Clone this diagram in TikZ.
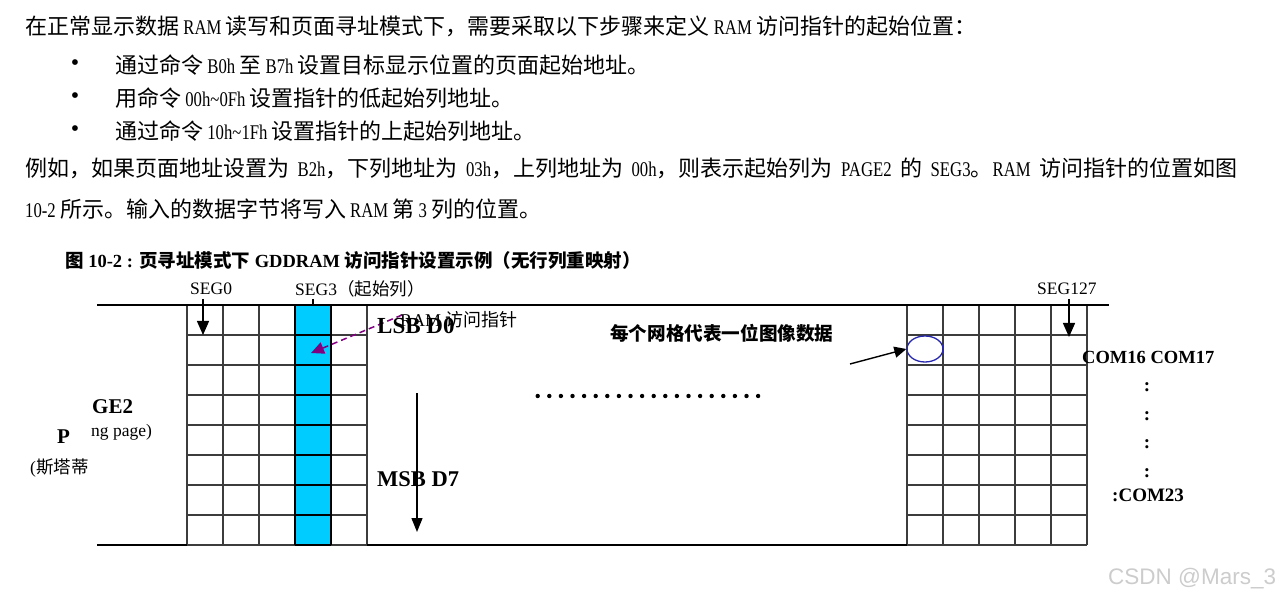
\documentclass[tikz,border=0pt]{standalone}
\usepackage{fontspec}
\setmainfont{Liberation Serif}
\newfontfamily\bodyserif{Liberation Serif}[FakeStretch=0.8, Scale=0.95]
\newfontfamily\cjk{Noto Sans CJK SC}
\newfontfamily\wmfont{Liberation Sans}
\usetikzlibrary{arrows.meta,shapes.geometric}
\newcommand\C[1]{{\cjk #1}}
\definecolor{colblue}{RGB}{0,204,255}
\definecolor{ptrpurple}{RGB}{128,0,128}
\definecolor{ellblue}{RGB}{40,40,175}
\definecolor{gridgray}{RGB}{60,60,60}
\begin{document}
\begin{tikzpicture}[x=1pt,y=-1pt,
  txt/.style={inner sep=0pt, anchor=west},
  body/.style={txt, font=\bodyserif\fontsize{22}{24}\selectfont},
  bul/.style={inner sep=0pt, anchor=center, font=\fontsize{24}{24}\selectfont},
  ttl/.style={txt, font=\bfseries\fontsize{18.5}{20}\selectfont},
  seglbl/.style={txt, font=\fontsize{17.5}{20}\selectfont},
  boldlbl/.style={txt, font=\bfseries\fontsize{21}{24}\selectfont},
  comlbl/.style={txt, font=\bfseries\fontsize{19}{22}\selectfont},
  gridline/.style={draw=gridgray, line width=1.3pt},
  frameline/.style={draw=black, line width=2.6pt},
  bigarrow/.style={draw=black, line width=1.4pt, -{Triangle[length=14pt,width=12pt]}},
]
\useasboundingbox (0,0) rectangle (1282,601);

% ---------------- body text ----------------
\node[body] (l1) at (25,26) {\C{在正常显示数据} RAM \C{读写和页面寻址模式下，需要采取以下步骤来定义} RAM \C{访问指针的起始位置：}};
\node[bul] (b1) at (75,65) {•};
\node[body] (l2) at (115,65) {\C{通过命令} B0h \C{至} B7h \C{设置目标显示位置的页面起始地址。}};
\node[bul] (b2) at (75,98) {•};
\node[body] (l3) at (115,98) {\C{用命令} 00h\textasciitilde 0Fh \C{设置指针的低起始列地址。}};
\node[bul] (b3) at (75,131) {•};
\node[body] (l4) at (115,131) {\C{通过命令} 10h\textasciitilde 1Fh \C{设置指针的上起始列地址。}};
\node[body] (l5) at (25,168) {\makebox[1212pt][s]{\C{例如，如果页面地址设置为} B2h\C{，下列地址为} 03h\C{，上列地址为} 00h\C{，则表示起始列为} PAGE2 \C{的} SEG3\C{。}RAM \C{访问指针的位置如图}}};
\node[body] (l6) at (25,209) {10-2 \C{所示。输入的数据字节将写入} RAM \C{第} 3 \C{列的位置。}};

% ---------------- figure title ----------------
\node[ttl] (title) at (65,260) {\C{图} 10-2 : \C{页寻址模式下} GDDRAM \C{访问指针设置示例（无行列重映射）}};

% ---------------- grids ----------------
\fill[colblue] (295,305) rectangle (331,545);
\foreach \x in {187,223,259,367} \draw[gridline] (\x,305) -- (\x,545);
\foreach \y in {335,365,...,545} \draw[gridline] (187,\y) -- (367,\y);
\foreach \y in {335,365,...,545} \draw[draw=black, line width=1.8pt] (295,\y) -- (331,\y);
\draw[draw=black, line width=2.2pt] (295,305) -- (295,545) (331,305) -- (331,545);

\foreach \x in {907,943,979,1015,1051,1087} \draw[gridline] (\x,305) -- (\x,545);
\foreach \y in {335,365,...,545} \draw[gridline] (907,\y) -- (1087,\y);

% frame lines
\draw[frameline] (97,305) -- (1109,305);
\draw[frameline] (97,545) -- (187,545);
\draw[frameline] (367,545) -- (907,545);

% ---------------- column labels ----------------
\node[seglbl] (seg0) at (190,289) {SEG0};
\node[seglbl] (seg3) at (295,289) {SEG3\C{（起始列）}};
\node[seglbl] (seg127) at (1037,289) {SEG127};
\coordinate (s0a) at (203,299); \coordinate (s0b) at (203,335);
\draw[bigarrow] (s0a) -- (s0b);
\coordinate (s3a) at (313,299); \coordinate (s3b) at (313,305);
\draw[line width=1.2pt] (s3a) -- (s3b);
\coordinate (s127a) at (1069,299); \coordinate (s127b) at (1069,337);
\draw[bigarrow] (s127a) -- (s127b);

% ---------------- pointer ----------------
\coordinate (pa) at (402,315); \coordinate (pb) at (311,353);
\draw[draw=ptrpurple, line width=1.5pt, dash pattern=on 6pt off 4pt, -{Triangle[length=13pt,width=12pt]}] (pa) -- (pb);
\node[txt, font=\fontsize{18}{20}\selectfont] (ramptr) at (400,320) {RAM \C{访问指针}};
\node[txt, font=\bfseries\fontsize{23}{24}\selectfont] (lsb) at (377,326) {LSB D0};
\node[txt, font=\bfseries\fontsize{18.6}{20}\selectfont] (each) at (610,333) {\C{每个网格代表一位图像数据}};

% dots
\foreach \i in {0,...,19} \fill (537.7+\i*11.6,396) circle (2.2);

% MSB arrow
\coordinate (ma) at (417,393); \coordinate (mb) at (417,532);
\draw[draw=black, line width=1.4pt, -{Triangle[length=14pt,width=11pt]}] (ma) -- (mb);
\node[txt, font=\bfseries\fontsize{22.5}{24}\selectfont] (msb) at (377,479) {MSB D7};

% ellipse + arrow
\node[draw=ellblue, line width=1.3pt, ellipse, minimum width=36pt, minimum height=26pt, inner sep=0pt] (cell) at (925,349) {};
\coordinate (ea) at (850,364);
\draw[draw=black, line width=1.4pt, -{Triangle[length=12pt,width=11pt]}] (ea) -- (cell.west);

% right labels
\node[comlbl, font=\bfseries\fontsize{18.5}{22}\selectfont] (com) at (1082,357) {COM16 COM17};
\node[comlbl, anchor=center] (c1) at (1147,387) {:};
\node[comlbl, anchor=center] (c2) at (1147,416) {:};
\node[comlbl, anchor=center] (c3) at (1147,444) {:};
\node[comlbl, anchor=center] (c4) at (1147,473) {:};
\node[comlbl] (com23) at (1112,495) {:COM23};

% left labels
\node[boldlbl] (ge2) at (92,407) {GE2};
\node[seglbl] (pgtxt) at (91,432) {ng page)};
\node[boldlbl] (pp) at (57,437) {P};
\node[seglbl] (sita) at (30,468) {(\C{斯塔蒂}};

% watermark
\node[txt, font=\wmfont\fontsize{22.5}{24}\selectfont, text=black!20] (wm) at (1108,579) {CSDN @Mars\_3};
\end{tikzpicture}
\end{document}
